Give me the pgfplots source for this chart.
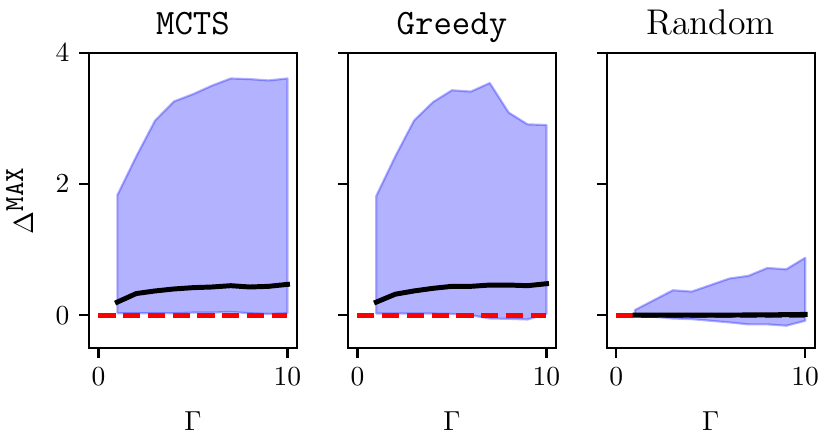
\documentclass[border=0pt]{standalone}
\usepackage{pgfplots}
\pgfplotsset{compat=1.18}
\begin{document}
\begin{tikzpicture}
\pgfplotsset{
  panel/.style={
    scale only axis, width=75.6pt, height=107.3pt,
    xmin=-0.5, xmax=10.5, ymin=-0.5, ymax=4,
    xtick={0,10}, ytick={0,2,4},
    tick align=outside, major tick length=3.6pt,
    xtick pos=bottom, ytick pos=left,
    axis line style={line width=0.8pt},
    every tick/.style={line width=0.8pt, black},
    tick label style={font=\fontsize{10}{12}\selectfont},
    every axis title shift=0pt,
    title style={at={(axis description cs:0.5,1.061)}, anchor=base, font=\fontsize{13}{15}\selectfont},
    xlabel={$\Gamma$},
    xlabel style={at={(axis description cs:0.5,-0.280)}, anchor=base, font=\fontsize{10}{12}\selectfont},
  },
  band/.style={fill=blue, fill opacity=0.3, draw=blue, draw opacity=0.3, line width=0.8pt, line join=round},
  zero/.style={red, line width=1.7pt, dash pattern=on 6.2pt off 2.8pt},
  mean/.style={black, line width=1.8pt, line cap=rect, line join=round},
}
% ---------- MCTS ----------
\begin{axis}[panel, at={(0pt,0pt)}, anchor=south west,
  title={\texttt{MCTS}},
  ylabel={$\Delta^{\texttt{MAX}}$},
  ylabel style={at={(axis description cs:-0.269,0.5)}, anchor=base, font=\fontsize{10}{12}\selectfont},
]
\addplot[band] coordinates {
 (1,1.83)(2,2.42)(3,2.97)(4,3.26)(5,3.37)(6,3.50)(7,3.61)(8,3.60)(9,3.58)(10,3.61)
 (10,0.03)(9,0.02)(8,0.03)(7,0.05)(6,0.04)(5,0.04)(4,0.03)(3,0.03)(2,0.03)(1,0.03)
} -- cycle;
\addplot[zero] coordinates {(0,0)(10,0)};
\addplot[mean] coordinates {
 (1,0.20)(2,0.33)(3,0.37)(4,0.40)(5,0.42)(6,0.43)(7,0.45)(8,0.43)(9,0.44)(10,0.47)
};
\end{axis}
% ---------- Greedy ----------
\begin{axis}[panel, at={(94.17pt,0pt)}, anchor=south west,
  title={\texttt{Greedy}}, yticklabels={},
]
\addplot[band] coordinates {
 (1,1.82)(2,2.42)(3,2.97)(4,3.25)(5,3.43)(6,3.41)(7,3.54)(8,3.09)(9,2.91)(10,2.90)
 (10,0.02)(9,-0.065)(8,-0.055)(7,-0.05)(6,0.0)(5,0.02)(4,0.025)(3,0.025)(2,0.025)(1,0.025)
} -- cycle;
\addplot[zero] coordinates {(0,0)(10,0)};
\addplot[mean] coordinates {
 (1,0.20)(2,0.32)(3,0.37)(4,0.41)(5,0.44)(6,0.44)(7,0.46)(8,0.46)(9,0.45)(10,0.48)
};
\end{axis}
% ---------- Random ----------
\begin{axis}[panel, at={(188.24pt,0pt)}, anchor=south west,
  title={Random}, yticklabels={},
]
\addplot[band] coordinates {
 (1,0.08)(2,0.23)(3,0.38)(4,0.36)(5,0.46)(6,0.56)(7,0.60)(8,0.72)(9,0.70)(10,0.875)
 (10,-0.085)(9,-0.16)(8,-0.14)(7,-0.14)(6,-0.11)(5,-0.085)(4,-0.06)(3,-0.05)(2,-0.025)(1,0.0)
} -- cycle;
\addplot[zero] coordinates {(0,0)(10,0)};
\addplot[mean] coordinates {
 (1,0.0)(2,0.0)(3,0.0)(4,0.0)(5,0.0)(6,0.002)(7,0.004)(8,0.006)(9,0.008)(10,0.012)
};
\end{axis}
\pgfresetboundingbox
\useasboundingbox (-32.36pt,-36.0pt) rectangle (269.43pt,126.53pt);
\end{tikzpicture}
\end{document}
